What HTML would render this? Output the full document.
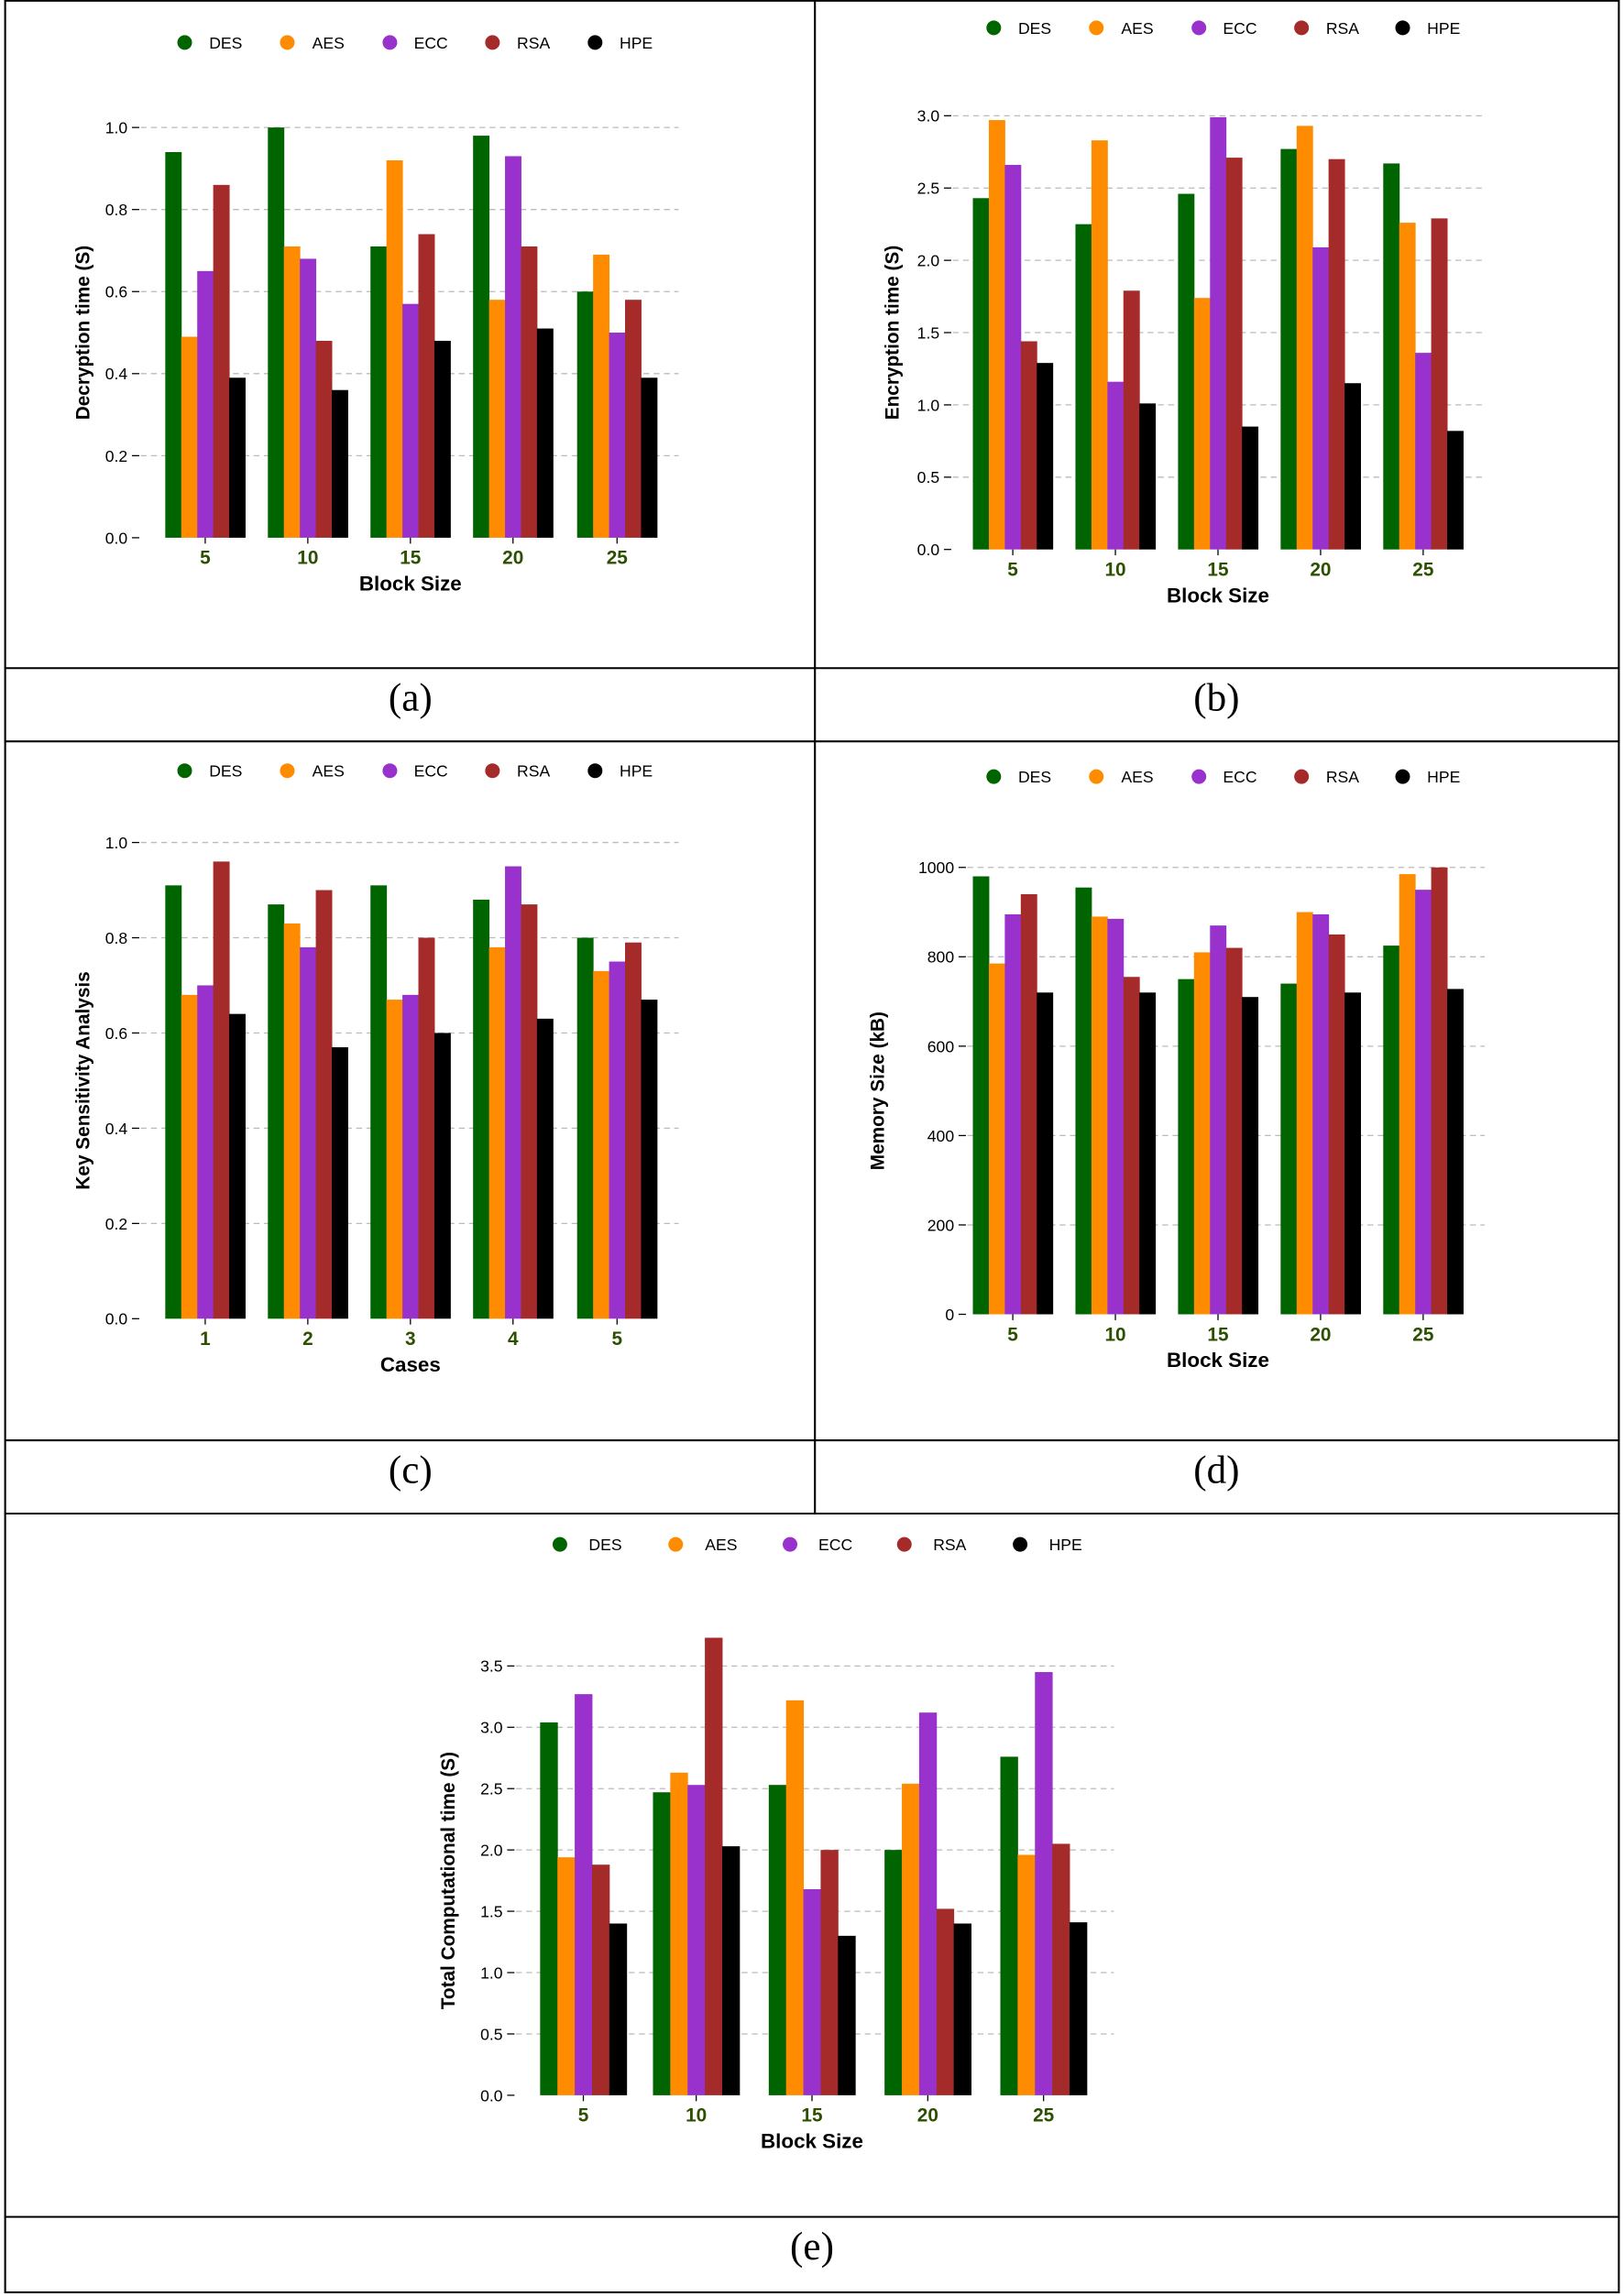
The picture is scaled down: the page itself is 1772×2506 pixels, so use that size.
<!DOCTYPE html>
<html><head><meta charset="utf-8"><style>
html,body{margin:0;padding:0;background:#fff}
svg{display:block}
</style></head><body>
<svg id="s" width="1772" height="2506" viewBox="0 0 1108 1567" xmlns="http://www.w3.org/2000/svg" font-family="Liberation Sans, sans-serif">
<rect x="0" y="0" width="1108" height="1567" fill="#fff"/>
<g stroke="#000" stroke-width="1.3" fill="none">
<rect x="3.5" y="0.5" width="1101" height="1564"/>
<line x1="556" y1="0" x2="556" y2="1033"/>
<line x1="3" y1="456" x2="1105" y2="456"/>
<line x1="3" y1="506" x2="1105" y2="506"/>
<line x1="3" y1="983" x2="1105" y2="983"/>
<line x1="3" y1="1033" x2="1105" y2="1033"/>
<line x1="3" y1="1513" x2="1105" y2="1513"/>
</g>
<g font-family="Liberation Serif, serif" font-size="27" text-anchor="middle">
<text x="280" y="485">(a)</text><text x="830" y="485">(b)</text>
<text x="280" y="1012">(c)</text><text x="830" y="1012">(d)</text>
<text x="554" y="1542">(e)</text>
</g>
<g id="charts"></g>
</svg>
<script>
var C=["#006400","#ff8c00","#9932cc","#a52a2a","#000000"],N=["DES","AES","ECC","RSA","HPE"];
var out="";
function panel(p){
  var s="";
  // legend
  for(var i=0;i<5;i++){
    s+='<circle cx="'+p.lx[i]+'" cy="'+p.ly+'" r="5" fill="'+C[i]+'"/>';
    s+='<text x="'+(p.lx[i]+p.lt)+'" y="'+(p.ly+4)+'" font-size="11" text-anchor="middle">'+N[i]+'</text>';
  }
  var sc=(p.y0-p.ytop)/p.vtop;
  // grid and ticks
  p.ticks.forEach(function(t){
    var y=p.y0-t*sc;
    if(t>0) s+='<line x1="'+p.gx0+'" x2="'+p.gx1+'" y1="'+y+'" y2="'+y+'" stroke="#bbb" stroke-dasharray="4,3" stroke-width="0.8"/>';
    s+='<line x1="'+(p.gx0-6)+'" x2="'+(p.gx0-1)+'" y1="'+y+'" y2="'+y+'" stroke="#000" stroke-width="0.8"/>';
    s+='<text x="'+(p.gx0-9)+'" y="'+(y+4)+'" font-size="11" text-anchor="end">'+p.fmt(t)+'</text>';
  });
  for(var g=0;g<5;g++){
    var cx=p.cx[g];
    for(var i=0;i<5;i++){
      var v=p.d[i][g],h=v*sc;
      s+='<rect x="'+(cx+(i-2.5)*p.w)+'" y="'+(p.y0-h)+'" width="'+(p.w+0.3)+'" height="'+h+'" fill="'+C[i]+'"/>';
    }
    s+='<line x1="'+cx+'" x2="'+cx+'" y1="'+p.y0+'" y2="'+(p.y0+4)+'" stroke="#000" stroke-width="0.8"/>';
    s+='<text x="'+cx+'" y="'+(p.y0+18)+'" font-size="13" font-weight="bold" fill="#2d5000" text-anchor="middle">'+p.xl[g]+'</text>';
  }
  s+='<text x="'+p.cx[2]+'" y="'+(p.y0+36)+'" font-size="14" font-weight="bold" text-anchor="middle">'+p.xt+'</text>';
  var my=(p.y0+p.ytop)/2;
  s+='<text transform="translate('+p.yx+','+my+') rotate(-90)" font-size="13" font-weight="bold" text-anchor="middle">'+p.yt+'</text>';
  out+=s;
}
var f1=function(t){return t.toFixed(1)},f0=function(t){return ""+t};
var bs=[5,10,15,20,25];
panel({lx:[126,196,266,336,406],lt:28,ly:29,y0:367,ytop:87,vtop:1,ticks:[0,.2,.4,.6,.8,1],fmt:f1,gx0:96,gx1:463,
 cx:[140,210,280,350,421],w:10.9,xl:bs,xt:"Block Size",yt:"Decryption time (S)",yx:61,
 d:[[.94,1.0,.71,.98,.60],[.49,.71,.92,.58,.69],[.65,.68,.57,.93,.50],[.86,.48,.74,.71,.58],[.39,.36,.48,.51,.39]]});
panel({lx:[678,748,818,888,957],lt:28,ly:19,y0:375,ytop:79,vtop:3,ticks:[0,.5,1,1.5,2,2.5,3],fmt:f1,gx0:650,gx1:1013,
 cx:[691,761,831,901,971],w:10.9,xl:bs,xt:"Block Size",yt:"Encryption time (S)",yx:613,
 d:[[2.43,2.25,2.46,2.77,2.67],[2.97,2.83,1.74,2.93,2.26],[2.66,1.16,2.99,2.09,1.36],[1.44,1.79,2.71,2.70,2.29],[1.29,1.01,.85,1.15,.82]]});
panel({lx:[126,196,266,336,406],lt:28,ly:526,y0:900,ytop:575,vtop:1,ticks:[0,.2,.4,.6,.8,1],fmt:f1,gx0:96,gx1:463,
 cx:[140,210,280,350,421],w:10.9,xl:[1,2,3,4,5],xt:"Cases",yt:"Key Sensitivity Analysis",yx:61,
 d:[[.91,.87,.91,.88,.80],[.68,.83,.67,.78,.73],[.70,.78,.68,.95,.75],[.96,.90,.80,.87,.79],[.64,.57,.60,.63,.67]]});
panel({lx:[678,748,818,888,957],lt:28,ly:530,y0:897,ytop:592,vtop:1000,ticks:[0,200,400,600,800,1000],fmt:f0,gx0:660,gx1:1013,
 cx:[691,761,831,901,971],w:10.9,xl:bs,xt:"Block Size",yt:"Memory Size (kB)",yx:603,
 d:[[980,955,750,740,825],[785,890,810,900,985],[895,885,870,895,950],[940,755,820,850,1000],[720,720,710,720,728]]});
panel({lx:[382,461,539,617,696],lt:31,ly:1054,y0:1430,ytop:1137,vtop:3.5,ticks:[0,.5,1,1.5,2,2.5,3,3.5],fmt:f1,gx0:352,gx1:760,
 cx:[398,475,554,633,712],w:11.8,xl:bs,xt:"Block Size",yt:"Total Computational time (S)",yx:1310,
 d:[[3.04,2.47,2.53,2.00,2.76],[1.94,2.63,3.22,2.54,1.96],[3.27,2.53,1.68,3.12,3.45],[1.88,3.73,2.00,1.52,2.05],[1.40,2.03,1.30,1.40,1.41]]});
document.getElementById("charts").innerHTML=out;
</script>
<script>
// fix: yx for panel e should be x coordinate near 310
(function(){var t=document.querySelectorAll("#charts text");for(var i=0;i<t.length;i++){var tr=t[i].getAttribute("transform");if(tr&&tr.indexOf("translate(1310")===0){t[i].setAttribute("transform",tr.replace("translate(1310","translate(310"));}}})();
</script>
</body></html>
